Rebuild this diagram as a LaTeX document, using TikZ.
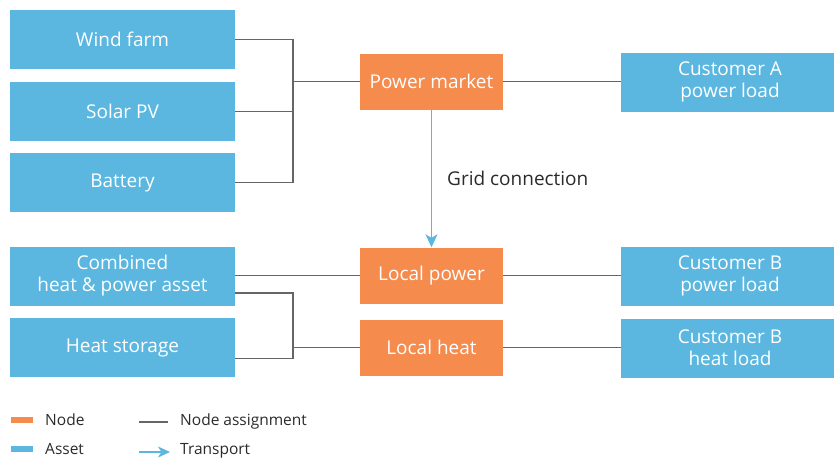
\documentclass[tikz,border=0pt]{standalone}
\usepackage{fontspec}
\setmainfont{Open Sans}
\usetikzlibrary{arrows.meta}
\definecolor{assetblue}{HTML}{5BB7DF}
\definecolor{nodeorange}{HTML}{F58B4C}
\definecolor{linegray}{HTML}{666666}
\definecolor{textdark}{HTML}{2B2B2B}

\begin{document}
\begin{tikzpicture}[
    x=1pt, y=-1pt,
    asset/.style={
        fill=assetblue, minimum width=225pt, minimum height=59pt,
        inner sep=0pt, text=white, align=center,
        font=\fontsize{19}{22}\selectfont
    },
    customer/.style={
        asset, minimum width=218pt
    },
    hub/.style={
        fill=nodeorange, minimum width=143pt, minimum height=56pt,
        inner sep=0pt, text=white, align=center,
        font=\fontsize{19}{22}\selectfont
    },
    assign/.style={
        draw=linegray, line width=1.7pt
    },
    transport/.style={
        -{Stealth[length=13pt, width=12pt, inset=3.5pt]}, draw=assetblue, line width=1.5pt
    },
    legendtext/.style={
        font=\fontsize{15.5}{17}\selectfont, text=textdark, anchor=west, inner sep=0pt
    },
]

% === Canvas ===
\useasboundingbox (0,0) rectangle (834,463);

% === Assets (left) ===
\node[asset] (wind) at (122.5, 39.5) {Wind farm};
\node[asset] (solar) at (122.5, 111.5) {Solar PV};
\node[asset] (battery) at (122.5, 182.5) {Battery};
\node[asset] (chp) at (122.5, 276) {Combined\\heat \& power asset};
\node[asset] (storage) at (122.5, 347.5) {Heat storage};

% === Nodes (middle) ===
\node[hub] (market) at (431.5, 81.5) {Power market};
\node[hub] (lpower) at (431.5, 275.5) {Local power};
\node[hub] (lheat) at (431.5, 347.5) {Local heat};

% === Customers (right) ===
\node[customer] (custA) at (730, 82) {Customer A\\power load};
\node[customer] (custBp) at (730, 276) {Customer B\\power load};
\node[customer] (custBh) at (730, 348) {Customer B\\heat load};

% === Node assignment ===
\coordinate (busA) at (293, 81.5);
\coordinate (busB) at (293, 347.5);

\draw[assign] (wind.east) -| (busA) -- (market.west);
\draw[assign] (solar.east) -- (solar.east -| busA);
\draw[assign] (battery.east) -| (busA);
\draw[assign] (market.east) -- (market.east -| custA.west);

\draw[assign] (chp.east |- lpower.west) -- (lpower.west);
\draw[assign] ([yshift=-17pt]chp.east) -| (busB) -- (lheat.west);
\draw[assign] ([yshift=-11pt]storage.east) -| (busB);
\draw[assign] (lpower.east) -- (lpower.east -| custBp.west);
\draw[assign] (lheat.east) -- (lheat.east -| custBh.west);

% === Transport ===
\draw[transport] (market) -- (lpower);
\node[font=\fontsize{19}{22}\selectfont, text=textdark, anchor=west, inner sep=0pt]
    (gridlabel) at (447, 178) {Grid connection};

% === Legend ===
\node[fill=nodeorange, minimum width=22pt, minimum height=6pt, inner sep=0pt] (keynode) at (22, 420) {};
\node[legendtext] (keynodetext) at (45, 420) {Node};
\node[fill=assetblue, minimum width=22pt, minimum height=6pt, inner sep=0pt] (keyasset) at (22, 449) {};
\node[legendtext] (keyassettext) at (45, 449) {Asset};

\coordinate (keyline1) at (139, 422);
\coordinate (keyline2) at (168, 422);
\draw[assign] (keyline1) -- (keyline2);
\node[legendtext] (keylinetext) at (180, 421) {Node assignment};
\coordinate (keyarrow1) at (139, 452);
\coordinate (keyarrow2) at (170, 452);
\draw[transport, -{Stealth[length=12pt, width=11pt, inset=3.5pt]}] (keyarrow1) -- (keyarrow2);
\node[legendtext] (keyarrowtext) at (180, 451) {Transport};

\end{tikzpicture}
\end{document}
